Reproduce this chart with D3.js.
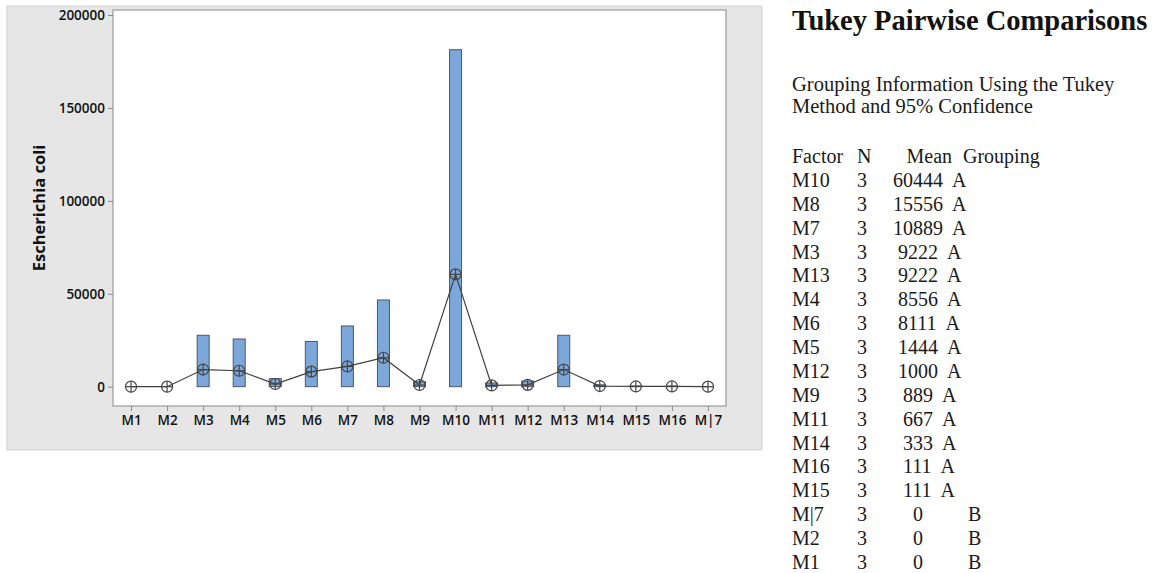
<!DOCTYPE html>
<html>
<head>
<meta charset="utf-8">
<script src="https://cdn.jsdelivr.net/npm/d3@7"></script>
<style>
  html, body { margin: 0; padding: 0; background: #ffffff; }
  svg { display: block; }
  .pre { white-space: pre; }
</style>
</head>
<body>
<svg id="chart" width="1160" height="573"></svg>
<script>
// Sample groups, in plotting order
const categories = ["M1", "M2", "M3", "M4", "M5", "M6", "M7", "M8", "M9",
                    "M10", "M11", "M12", "M13", "M14", "M15", "M16", "M|7"];
// Group means (connected markers)
const means = [0, 0, 9222, 8556, 1444, 8111, 10889, 15556, 889,
               60444, 667, 1000, 9222, 333, 111, 111, 0];
// Largest observation in each group (bars from zero)
const maxima = [0, 0, 27667, 25667, 4333, 24333, 32667, 46667, 2667,
                181333, 2000, 3000, 27667, 1000, 333, 333, 0];
const yTicks = [0, 50000, 100000, 150000, 200000];
const yLabel = "Escherichia coli";

// Tukey grouping table
const titleText = "Tukey Pairwise Comparisons";
const subtitleLines = ["Grouping Information Using the Tukey", "Method and 95% Confidence"];
const tableHeader = ["Factor", "N", "Mean", "Grouping"];
const tableFactors = ["M10", "M8", "M7", "M3", "M13", "M4", "M6", "M5", "M12",
                      "M9", "M11", "M14", "M16", "M15", "M|7", "M2", "M1"];
const tableN = [3, 3, 3, 3, 3, 3, 3, 3, 3, 3, 3, 3, 3, 3, 3, 3, 3];
const tableMeans = [60444, 15556, 10889, 9222, 9222, 8556, 8111, 1444, 1000,
                    889, 667, 333, 111, 111, 0, 0, 0];
const tableGroups = ["A", "A", "A", "A", "A", "A", "A", "A", "A",
                     "A", "A", "A", "A", "A", "B", "B", "B"];

const svg = d3.select("#chart");
const sansFont = "'Open Sans', 'Noto Sans', sans-serif";
const serifFont = "'Liberation Serif', 'DejaVu Serif', serif";

// ---- Graph panel ----
svg.append("rect")
  .attr("x", 7).attr("y", 6).attr("width", 755).attr("height", 444)
  .attr("fill", "#e6e6e6").attr("stroke", "#cfcfcf").attr("stroke-width", 1);

const plot = { left: 113, top: 10, right: 726, bottom: 406 };

svg.append("rect")
  .attr("x", plot.left).attr("y", plot.top)
  .attr("width", plot.right - plot.left).attr("height", plot.bottom - plot.top)
  .attr("fill", "#ffffff").attr("stroke", "#9a9a9a").attr("stroke-width", 1.2);

const x = d3.scalePoint().domain(categories).range([plot.left, plot.right]).padding(0.5);
const y = d3.scaleLinear().domain([-10400, 202700]).range([plot.bottom, plot.top]);

// Y axis
const yAxis = d3.axisLeft(y).tickValues(yTicks).tickSize(5).tickPadding(3)
  .tickFormat(d3.format("d"));
const gy = svg.append("g").attr("transform", `translate(${plot.left},0)`).call(yAxis);
gy.select(".domain").remove();
gy.selectAll(".tick line").attr("stroke", "#8c8c8c");
gy.selectAll(".tick text")
  .attr("font-family", sansFont).attr("font-size", 13.5).attr("font-weight", 600)
  .attr("fill", "#111");

// X axis
const xAxis = d3.axisBottom(x).tickSize(5).tickPadding(4);
const gx = svg.append("g").attr("transform", `translate(0,${plot.bottom})`).call(xAxis);
gx.select(".domain").remove();
gx.selectAll(".tick line").attr("stroke", "#8c8c8c");
gx.selectAll(".tick text")
  .attr("font-family", sansFont).attr("font-size", 13.5).attr("font-weight", 600)
  .attr("fill", "#111");

// Y axis title
svg.append("text")
  .attr("transform", "translate(44.5,208) rotate(-90)")
  .attr("text-anchor", "middle")
  .attr("font-family", sansFont).attr("font-size", 16.5).attr("font-weight", 700)
  .attr("fill", "#111")
  .text(yLabel);

// Bars: zero to group maximum
const barW = 12;
const rows = categories.map((c, i) => ({ cat: c, mean: means[i], max: maxima[i] }));
svg.append("g").selectAll("rect")
  .data(rows.filter(d => d.max > 0))
  .join("rect")
  .attr("x", d => x(d.cat) - barW / 2)
  .attr("width", barW)
  .attr("y", d => y(d.max))
  .attr("height", d => y(0) - y(d.max))
  .attr("fill", "#7ba7da")
  .attr("stroke", "#4e5966")
  .attr("stroke-width", 1);

// Mean connect line
svg.append("path")
  .datum(rows)
  .attr("fill", "none")
  .attr("stroke", "#404040")
  .attr("stroke-width", 1.2)
  .attr("d", d3.line().x(d => x(d.cat)).y(d => y(d.mean)));

// Mean symbols: circle with cross
const r = 5.5;
const sym = svg.append("g").selectAll("g")
  .data(rows)
  .join("g")
  .attr("transform", d => `translate(${x(d.cat)},${y(d.mean)})`);
sym.append("circle").attr("r", r)
  .attr("fill", "none").attr("stroke", "#454545").attr("stroke-width", 1.2);
sym.append("line").attr("x1", -r).attr("x2", r).attr("y1", 0).attr("y2", 0)
  .attr("stroke", "#454545").attr("stroke-width", 1.2);
sym.append("line").attr("y1", -r).attr("y2", r).attr("x1", 0).attr("x2", 0)
  .attr("stroke", "#454545").attr("stroke-width", 1.2);

// ---- Tukey grouping table ----
const tx = 792;
svg.append("text")
  .attr("x", tx).attr("y", 30)
  .attr("font-family", serifFont).attr("font-size", 28.5).attr("font-weight", 700)
  .attr("fill", "#111")
  .text(titleText);

subtitleLines.forEach((line, i) => {
  svg.append("text")
    .attr("x", tx).attr("y", 90.7 + i * 22.5)
    .attr("font-family", serifFont).attr("font-size", 20.5)
    .attr("fill", "#1a1a1a")
    .text(line);
});

const colN = 857;
const colMeanStart = 893;
const colB = 968;
const rowStep = 23.875;
const headerY = 163;

const header = svg.append("text")
  .attr("y", headerY)
  .attr("font-family", serifFont).attr("font-size", 20).attr("fill", "#1a1a1a");
header.append("tspan").attr("x", tx).text(tableHeader[0]);
header.append("tspan").attr("x", colN).text(tableHeader[1]);
header.append("tspan").attr("x", 906.5).text(tableHeader[2]);
header.append("tspan").attr("x", 963).text(tableHeader[3]);

tableFactors.forEach((f, i) => {
  const t = svg.append("text")
    .attr("class", "pre")
    .attr("y", headerY + (i + 1) * rowStep)
    .attr("font-family", serifFont).attr("font-size", 20).attr("fill", "#1a1a1a");
  t.append("tspan").attr("x", tx).text(f);
  t.append("tspan").attr("x", colN).text(String(tableN[i]));
  const meanStr = String(tableMeans[i]).padStart(5, " ");
  if (tableGroups[i] === "A") {
    t.append("tspan").attr("x", colMeanStart).text(meanStr + "  " + tableGroups[i]);
  } else {
    t.append("tspan").attr("x", colMeanStart).text(meanStr);
    t.append("tspan").attr("x", colB).text(tableGroups[i]);
  }
});
</script>
</body>
</html>
